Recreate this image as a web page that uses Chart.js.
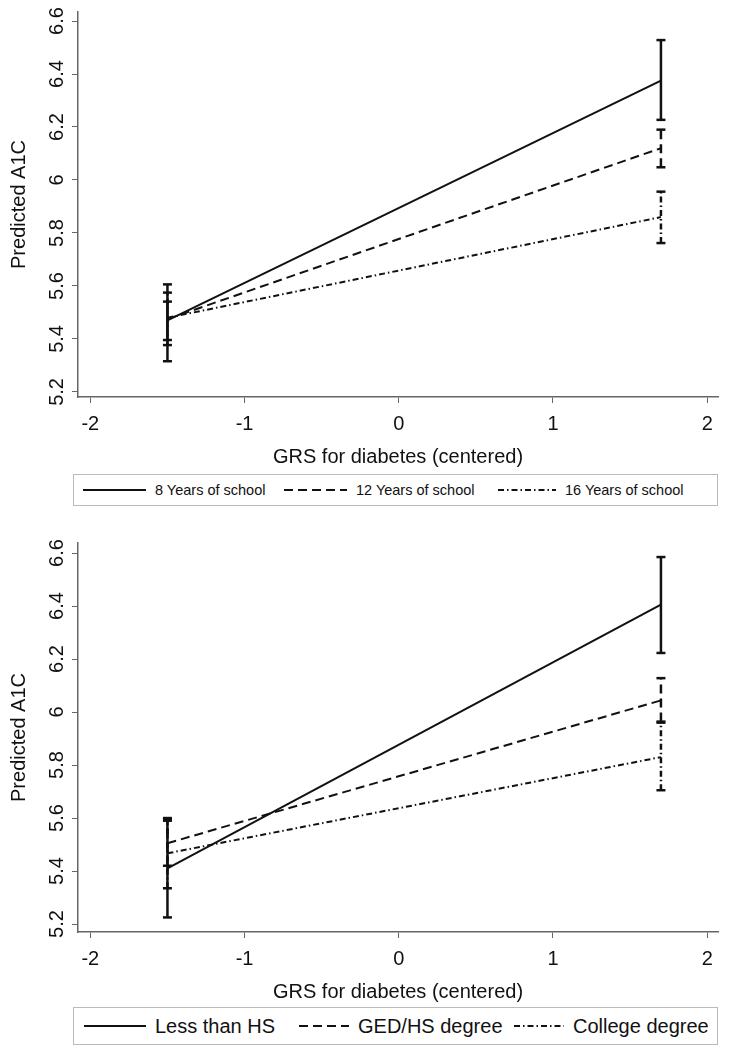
<!DOCTYPE html>
<html>
<head>
<meta charset="utf-8">
<script src="https://cdn.jsdelivr.net/npm/chart.js@4.4.1/dist/chart.umd.min.js"></script>
<style>
  body { margin: 0; background: #fff; font-family: "Liberation Sans", Arial, sans-serif; }
  .wrap { position: relative; width: 729px; height: 1050px; }
  .box { position: absolute; left: 0; width: 729px; }
  .legend {
    position: absolute; left: 73px; width: 645px;
    border: 1px solid #bbb; box-sizing: border-box; color: #111;
  }
  .legend .item { position: absolute; top: 0; bottom: 0; display: flex; align-items: center; white-space: nowrap; }
  .legend svg { margin-right: 9px; }
</style>
</head>
<body>
<div class="wrap">
  <div class="box" style="top:0;height:470px"><canvas id="chartTop" width="729" height="470"></canvas></div>
  <div class="legend" id="legendTop" style="top:474px;height:32px;font-size:14.5px"></div>
  <div class="box" style="top:530px;height:475px"><canvas id="chartBottom" width="729" height="475"></canvas></div>
  <div class="legend" id="legendBottom" style="top:1007px;height:38px;font-size:20px"></div>
</div>
<script>
// Datos
const xEnds = [-1.5, 1.7];
const xTickValues = [-2, -1, 0, 1, 2];
const yTickValues = [5.2, 5.4, 5.6, 5.8, 6, 6.2, 6.4, 6.6];

const topSeries = ['8 Years of school', '12 Years of school', '16 Years of school'];
const topMean = [[5.47, 6.375], [5.475, 6.12], [5.48, 5.86]];
const topLow = [[5.316, 6.227], [5.396, 6.048], [5.377, 5.762]];
const topHigh = [[5.606, 6.528], [5.541, 6.19], [5.575, 5.956]];

const bottomSeries = ['Less than HS', 'GED/HS degree', 'College degree'];
const bottomMean = [[5.41, 6.405], [5.505, 6.044], [5.467, 5.83]];
const bottomLow = [[5.225, 6.223], [5.42, 5.964], [5.335, 5.705]];
const bottomHigh = [[5.59, 6.585], [5.595, 6.128], [5.60, 5.96]];

// Estilos de línea
const dashes = [[], [9, 5], [6, 3, 1.5, 3]];
const ink = '#111';
const fontFamily = '"Liberation Sans", Arial, sans-serif';

// Etiquetas del eje Y giradas (como en Stata)
const rotatedYLabels = {
    id: 'rotatedYLabels',
    afterDraw(chart) {
        const scale = chart.scales.y;
        const ctx = chart.ctx;
        ctx.save();
        ctx.font = '20px ' + fontFamily;
        ctx.fillStyle = ink;
        ctx.textAlign = 'center';
        ctx.textBaseline = 'middle';
        scale.ticks.forEach(t => {
            ctx.save();
            ctx.translate(scale.right - 21, scale.getPixelForValue(t.value));
            ctx.rotate(-Math.PI / 2);
            ctx.fillText(String(Number(t.value.toFixed(1))), 0, 0);
            ctx.restore();
        });
        ctx.restore();
    }
};

function buildDatasets(mean, low, high) {
    const sets = [];
    mean.forEach((m, i) => {
        sets.push({
            data: xEnds.map((x, j) => ({ x: x, y: m[j] })),
            borderColor: ink,
            borderWidth: 2,
            borderDash: dashes[i],
            pointRadius: 0
        });
        xEnds.forEach((x, j) => {
            sets.push({
                data: [{ x: x, y: low[i][j] }, { x: x, y: high[i][j] }],
                borderColor: ink,
                borderWidth: 2.5,
                borderDash: dashes[i],
                pointStyle: 'line',
                pointRadius: 4.5,
                pointBorderWidth: 2.5,
                pointBorderColor: ink
            });
        });
    });
    return sets;
}

function makeChart(id, mean, low, high, yMin, yMax, padTop) {
    return new Chart(document.getElementById(id), {
        type: 'line',
        data: { datasets: buildDatasets(mean, low, high) },
        options: {
            responsive: false,
            animation: false,
            devicePixelRatio: 1,
            layout: { padding: { top: padTop, right: 11, left: 0, bottom: 0 } },
            plugins: { legend: { display: false }, tooltip: { enabled: false } },
            scales: {
                x: {
                    type: 'linear',
                    min: -2.08,
                    max: 2.07,
                    afterBuildTicks: s => { s.ticks = xTickValues.map(v => ({ value: v })); },
                    afterFit: s => { s.height = 73; },
                    grid: { drawOnChartArea: false, drawTicks: true, tickLength: 6, color: '#666' },
                    border: { display: true, color: '#666', width: 1.5 },
                    ticks: { color: ink, padding: 9, maxRotation: 0, font: { size: 20, family: fontFamily } },
                    title: { display: true, text: 'GRS for diabetes (centered)', color: ink, padding: { top: 0, bottom: 1 }, font: { size: 20, family: fontFamily } }
                },
                y: {
                    type: 'linear',
                    min: yMin,
                    max: yMax,
                    afterBuildTicks: s => { s.ticks = yTickValues.map(v => ({ value: v })); },
                    afterFit: s => { s.width = 78; },
                    grid: { drawOnChartArea: false, drawTicks: true, tickLength: 6, color: '#666' },
                    border: { display: true, color: '#666', width: 1.5 },
                    ticks: { display: false },
                    title: { display: true, text: 'Predicted A1C', color: ink, padding: { top: 7, bottom: 0 }, font: { size: 20, family: fontFamily } }
                }
            }
        },
        plugins: [rotatedYLabels]
    });
}

// Leyenda con recuadro, posiciones medidas en la imagen
function makeLegend(id, names, lefts, widths) {
    const el = document.getElementById(id);
    el.innerHTML = names.map((name, i) => `
        <div class="item" style="left:${lefts[i]}px">
            <svg width="${widths[i]}" height="6"><line x1="0" y1="3" x2="${widths[i]}" y2="3" stroke="${ink}" stroke-width="2"
                stroke-dasharray="${dashes[i].length ? dashes[i].join(' ') : 'none'}"/></svg>
            <span>${name}</span>
        </div>`).join('');
}

makeChart('chartTop', topMean, topLow, topHigh, 5.181, 6.634, 12);
makeChart('chartBottom', bottomMean, bottomLow, bottomHigh, 5.17, 6.638, 13);
makeLegend('legendTop', topSeries, [9, 210, 424], [63, 63, 58]);
makeLegend('legendBottom', bottomSeries, [10, 225, 440], [62, 50, 50]);
</script>
</body>
</html>
